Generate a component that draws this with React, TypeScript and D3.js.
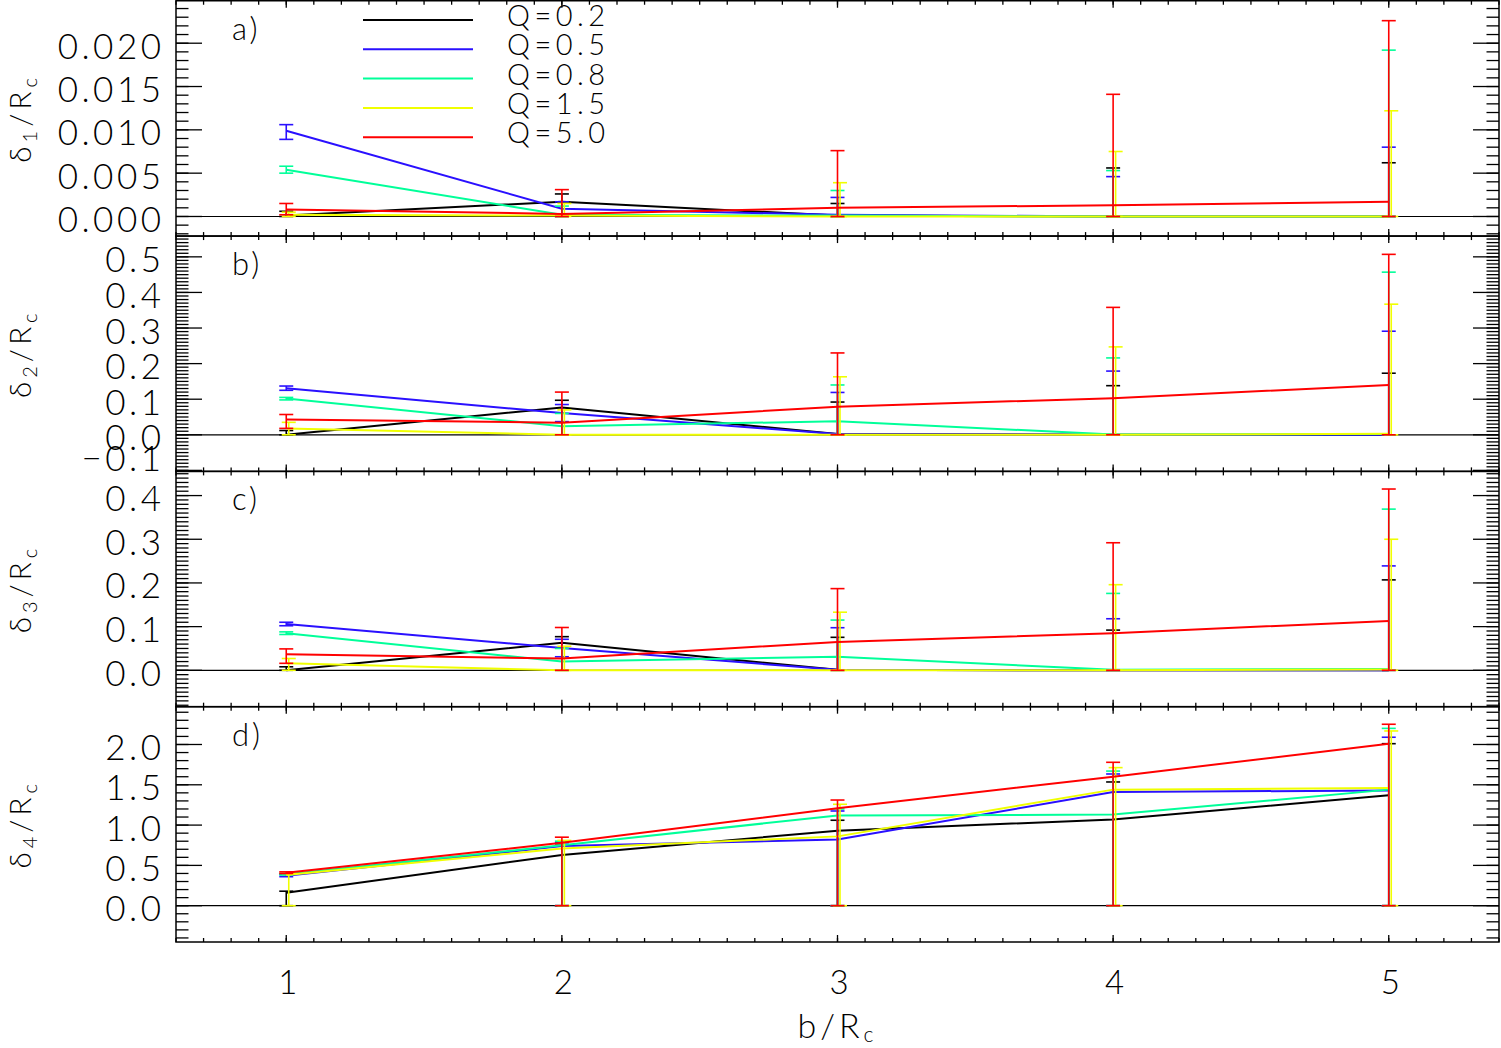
import React from 'react';
import * as d3 from 'd3';

// ---------- data ----------
const bValues = [1, 2, 3, 4, 5];
const qLabels = ['Q=0.2', 'Q=0.5', 'Q=0.8', 'Q=1.5', 'Q=5.0'];
const qColors = ['#000000', '#2a10ff', '#00ff99', '#f0ff00', '#ff0000'];

// panel a: delta1 / Rc  (rows: Q=0.2, 0.5, 0.8, 1.5, 5.0)
const d1Val = [
  [0.0001, 0.0017, 0.0001, 0.0, 0.0],
  [0.0099, 0.0009, 0.0002, 0.0, 0.0],
  [0.0054, 0.0002, 0.0001, 0.0, 0.0],
  [0.0002, 0.0001, 0.0, 0.0, 0.0],
  [0.0008, 0.0003, 0.001, 0.0013, 0.0017],
];
const d1Hi = [
  [0.0006, 0.0026, 0.0015, 0.0056, 0.0062],
  [0.0106, 0.0017, 0.0022, 0.0046, 0.008],
  [0.0058, 0.0012, 0.003, 0.0053, 0.0192],
  [0.0005, 0.0015, 0.0039, 0.0075, 0.0122],
  [0.0015, 0.0031, 0.0076, 0.0141, 0.0226],
];
const d1Lo = [
  [0, 0, 0, 0, 0],
  [0.0089, 0.0001, 0, 0, 0],
  [0.005, 0, 0, 0, 0],
  [0, 0, 0, 0, 0],
  [0.0002, 0, 0, 0, 0],
];

// panel b: delta2 / Rc
const d2Val = [
  [0.0, 0.077, 0.002, 0.0, 0.0],
  [0.131, 0.061, 0.002, 0.0, 0.0],
  [0.102, 0.024, 0.038, 0.001, 0.002],
  [0.018, 0.0, 0.0, 0.0, 0.003],
  [0.043, 0.034, 0.079, 0.103, 0.14],
];
const d2Hi = [
  [0.012, 0.097, 0.092, 0.138, 0.173],
  [0.137, 0.085, 0.119, 0.179, 0.291],
  [0.105, 0.06, 0.14, 0.216, 0.457],
  [0.035, 0.07, 0.163, 0.247, 0.367],
  [0.057, 0.12, 0.23, 0.358, 0.507],
];
const d2Lo = [
  [0, 0, 0, 0, 0],
  [0.125, 0.037, 0, 0, 0],
  [0.098, 0, 0, 0, 0],
  [0, 0, 0, 0, 0],
  [0.018, 0, 0, 0, 0],
];

// panel c: delta3 / Rc
const d3Val = [
  [0.0, 0.063, 0.001, 0.0, 0.0],
  [0.106, 0.051, 0.001, 0.0, 0.0],
  [0.085, 0.02, 0.031, 0.001, 0.003],
  [0.016, 0.0, 0.0, 0.0, 0.002],
  [0.037, 0.027, 0.065, 0.085, 0.113],
];
const d3Hi = [
  [0.008, 0.077, 0.0755, 0.092, 0.207],
  [0.11, 0.071, 0.0975, 0.118, 0.239],
  [0.088, 0.05, 0.115, 0.176, 0.369],
  [0.027, 0.055, 0.133, 0.196, 0.3],
  [0.049, 0.098, 0.187, 0.292, 0.415],
];
const d3Lo = [
  [0, 0, 0, 0, 0],
  [0.102, 0.031, 0, 0, 0],
  [0.082, 0, 0, 0, 0],
  [0, 0, 0, 0, 0],
  [0.016, 0, 0, 0, 0],
];

// panel d: delta4 / Rc
const d4Val = [
  [0.16, 0.63, 0.93, 1.07, 1.37],
  [0.37, 0.74, 0.82, 1.41, 1.43],
  [0.39, 0.75, 1.12, 1.13, 1.44],
  [0.38, 0.71, 0.86, 1.44, 1.46],
  [0.41, 0.78, 1.21, 1.6, 2.01],
];
const d4Hi = [
  [0.18, 0.75, 1.06, 1.535, 2.01],
  [0.39, 0.78, 1.175, 1.634, 2.09],
  [0.4, 0.8, 1.2, 1.67, 2.2],
  [0.4, 0.81, 1.258, 1.713, 2.168],
  [0.42, 0.85, 1.311, 1.779, 2.251],
];
const d4Lo = [
  [0, 0, 0, 0, 0],
  [0.36, 0, 0, 0, 0],
  [0.38, 0, 0, 0, 0],
  [0, 0, 0, 0, 0],
  [0.4, 0, 0, 0, 0],
];

const xDomain = [0.6, 5.4];
const xTickLabels = ['1', '2', '3', '4', '5'];
const yRanges = [
  [-0.00226, 0.0249],
  [-0.1028, 0.5584],
  [-0.0833, 0.4554],
  [-0.4504, 2.469],
];
const yMajorSteps = [0.005, 0.1, 0.1, 0.5];
const yMinorSteps = [0.001, 0.01, 0.01, 0.1];
const yDecimals = [3, 1, 1, 1];
const panelLetters = ['a)', 'b)', 'c)', 'd)'];
const yTitleSubs = ['1', '2', '3', '4'];

const panelVals = [d1Val, d2Val, d3Val, d4Val];
const panelHi = [d1Hi, d2Hi, d3Hi, d4Hi];
const panelLo = [d1Lo, d2Lo, d3Lo, d4Lo];

// ---------- layout ----------
const W = 1501;
const H = 1048;
const LEFT = 176;
const RIGHT = 1499;
const TOP = 0.75;
const BOTTOM = 942;
const FONT = "Lato, 'Open Sans', 'DejaVu Sans', sans-serif";
// small horizontal shift of the error bars per series (yellow sits just right of red)
const barShift = [0, 0, 0, 2.5, 0];

function tickRange(d: number[], step: number): number[] {
  const n0 = Math.ceil(d[0] / step - 1e-9);
  const n1 = Math.floor(d[1] / step + 1e-9);
  return d3.range(n0, n1 + 1).map((k) => +(k * step).toFixed(8));
}

export default function App() {
  const ph = (BOTTOM - TOP) / 4;
  const x = d3.scaleLinear().domain(xDomain).range([LEFT, RIGHT]);
  const xMajor = tickRange(xDomain, 1);
  const xMinor = tickRange(xDomain, 0.1);

  const panels = panelVals.map((vals, i) => {
    const pTop = TOP + i * ph;
    const pBot = pTop + ph;
    const y = d3.scaleLinear().domain(yRanges[i]).range([pBot, pTop]);
    const majors = tickRange(yRanges[i], yMajorSteps[i]);
    const minors = tickRange(yRanges[i], yMinorSteps[i]);
    const fmt = d3.format(`.${yDecimals[i]}f`);
    const line = d3
      .line<number>()
      .x((_, k) => x(bValues[k]))
      .y((v) => y(v));
    const cy = (pTop + pBot) / 2;
    return (
      <g key={i}>
        {/* zero line */}
        <line x1={LEFT} x2={RIGHT} y1={y(0)} y2={y(0)} stroke="#000" strokeWidth={1.2} />
        {/* series */}
        {vals.map((vs, s) => (
          <g key={s}>
            <path d={line(vs) || ''} fill="none" stroke={qColors[s]} strokeWidth={2} />
            {vs.map((v, k) => {
              const xx = x(bValues[k]) + barShift[s];
              const yh = y(panelHi[i][s][k]);
              const yl = y(panelLo[i][s][k]);
              return (
                <g key={k} stroke={qColors[s]} strokeWidth={1.6}>
                  <line x1={xx} x2={xx} y1={yl} y2={yh} />
                  <line x1={xx - 7} x2={xx + 7} y1={yh} y2={yh} />
                  <line x1={xx - 7} x2={xx + 7} y1={yl} y2={yl} />
                </g>
              );
            })}
          </g>
        ))}
        {/* frame */}
        <rect x={LEFT} y={pTop} width={RIGHT - LEFT} height={ph} fill="none" stroke="#000" strokeWidth={1.5} />
        {/* y ticks */}
        {minors.map((t) => (
          <g key={'m' + t} stroke="#000" strokeWidth={1.3}>
            <line x1={LEFT} x2={LEFT + 12.5} y1={y(t)} y2={y(t)} />
            <line x1={RIGHT} x2={RIGHT - 12.5} y1={y(t)} y2={y(t)} />
          </g>
        ))}
        {majors.map((t) => (
          <g key={'M' + t} stroke="#000" strokeWidth={1.3}>
            <line x1={LEFT} x2={LEFT + 26} y1={y(t)} y2={y(t)} />
            <line x1={RIGHT} x2={RIGHT - 26} y1={y(t)} y2={y(t)} />
          </g>
        ))}
        {/* x ticks */}
        {xMinor.map((t) => (
          <g key={'xm' + t} stroke="#000" strokeWidth={1.3}>
            <line x1={x(t)} x2={x(t)} y1={pBot} y2={pBot - 4} />
            <line x1={x(t)} x2={x(t)} y1={pTop} y2={pTop + 4} />
          </g>
        ))}
        {xMajor.map((t) => (
          <g key={'xM' + t} stroke="#000" strokeWidth={1.3}>
            <line x1={x(t)} x2={x(t)} y1={pBot} y2={pBot - 7} />
            <line x1={x(t)} x2={x(t)} y1={pTop} y2={pTop + 7} />
          </g>
        ))}
        {/* y tick labels */}
        {majors.map((t) => {
          const c = Math.min(y(t) + 3, pBot - 12.5);
          return (
            <text
              key={'l' + t}
              x={161 + 3.5}
              y={c + 12.5}
              textAnchor="end"
              fontFamily={FONT}
              fontWeight={300}
              fontSize={35}
              letterSpacing={3.5}
              fill="#000"
            >
              {fmt(t)}
            </text>
          );
        })}
        {/* panel letter */}
        <text x={232} y={pTop + 39} fontFamily={FONT} fontWeight={300} fontSize={31} letterSpacing={3} fill="#000">
          {panelLetters[i]}
        </text>
        {/* y title */}
        <text
          transform={`translate(31,${cy}) rotate(-90)`}
          textAnchor="middle"
          fontFamily={FONT}
          fontWeight={300}
          fontSize={30}
          letterSpacing={4}
          fill="#000"
        >
          <tspan>δ</tspan>
          <tspan fontSize={20} dy={6}>
            {yTitleSubs[i]}
          </tspan>
          <tspan dy={-6}>/R</tspan>
          <tspan fontSize={20} dy={6}>
            c
          </tspan>
        </text>
      </g>
    );
  });

  return (
    <svg
      width={W}
      height={H}
      viewBox={`0 0 ${W} ${H}`}
      style={{ position: 'absolute', left: 0, top: 0, background: '#fff' }}
    >
      <rect x={0} y={0} width={W} height={H} fill="#fff" />
      {panels}
      {/* x tick labels */}
      {xMajor.map((t, k) => (
        <text
          key={'xl' + t}
          x={x(t) + 1.5}
          y={994}
          textAnchor="middle"
          fontFamily={FONT}
          fontWeight={300}
          fontSize={33}
          fill="#000"
        >
          {xTickLabels[k]}
        </text>
      ))}
      {/* x title */}
      <text
        x={(LEFT + RIGHT) / 2}
        y={1038}
        textAnchor="middle"
        fontFamily={FONT}
        fontWeight={300}
        fontSize={34}
        letterSpacing={4}
        fill="#000"
      >
        <tspan>b/R</tspan>
        <tspan fontSize={21} dy={4}>
          c
        </tspan>
      </text>
      {/* legend */}
      {qLabels.map((q, s) => {
        const ly = 20 + s * 29.3;
        return (
          <g key={'lg' + s}>
            <line x1={363} x2={473} y1={ly} y2={ly} stroke={qColors[s]} strokeWidth={2} />
            <text x={507} y={ly + 6} fontFamily={FONT} fontWeight={300} fontSize={29} letterSpacing={4.5} fill="#000">
              {q}
            </text>
          </g>
        );
      })}
    </svg>
  );
}
